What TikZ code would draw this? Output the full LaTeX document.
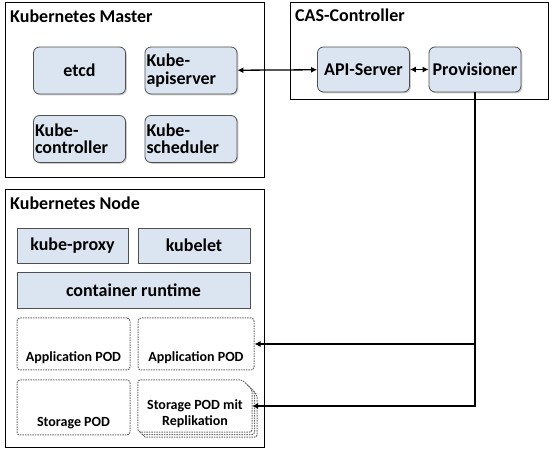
\documentclass[tikz,border=0pt]{standalone}
\usepackage{fontspec}
\setmainfont{Carlito}
\usetikzlibrary{arrows.meta,positioning,shadows}
\definecolor{boxfill}{RGB}{219,229,241}
\definecolor{boxline}{RGB}{80,80,80}

\begin{document}
\begin{tikzpicture}[x=1pt, y=-1pt, >={Latex[length=6pt,width=6pt]},
	every node/.style={font=\bfseries\fontsize{18}{17.5}\selectfont},
	frame/.style={draw=black, line width=1pt},
	title/.style={anchor=base west, inner sep=0pt},
	comp/.style={draw=boxline, fill=boxfill, rounded corners=6pt, line width=0.8pt, drop shadow={shadow xshift=1.3pt, shadow yshift=-1.3pt, opacity=0.4}, minimum height=47pt, text width=89pt, inner xsep=1.5pt, align=left},
	layer/.style={draw=boxline, fill=boxfill, line width=0.8pt, drop shadow={shadow xshift=1.3pt, shadow yshift=-1.3pt, opacity=0.4}, minimum height=35pt, align=center},
	pod/.style={draw=gray!85!black, dash pattern=on 1.5pt off 1pt, rounded corners=3pt, line width=1pt},
	podtext/.style={font=\bfseries\fontsize{14}{16}\selectfont, align=center},
	link/.style={line width=1.3pt}]
	\useasboundingbox (0,0) rectangle (550,449);

	% Kubernetes Master
	\draw[frame] (5,3) rectangle (264,178);
	\node[title] (mastertitle) at (10,22.5) {Kubernetes Master};
	\node[comp, align=center] (etcd) at (79.5,70.5) {etcd};
	\node[comp] (apiserver) at (191,70.5) {Kube-\\apiserver};
	\node[comp] (controller) at (79.5,139) {Kube-\\controller};
	\node[comp] (scheduler) at (191,139) {Kube-\\scheduler};

	% CAS-Controller
	\draw[frame] (290,3) rectangle (548,100);
	\node[title] (castitle) at (295,22) {CAS-Controller};
	\node[comp, align=center, minimum height=45pt] (casapi) at (363.5,69.5) {API-Server};
	\node[comp, align=center, minimum height=45pt] (prov) at (475,69.5) {Provisioner};

	% Kubernetes Node
	\draw[frame] (5,190) rectangle (264,448);
	\node[title] (nodetitle) at (10,210) {Kubernetes Node};
	\node[layer, minimum width=111pt] (proxy) at (72.5,245.5) {kube-proxy};
	\node[layer, minimum width=112pt] (kubelet) at (194,245.5) {kubelet};
	\node[layer, minimum width=233pt, minimum height=36pt] (runtime) at (133.5,290) {container runtime};

	\node[pod, minimum width=113pt, minimum height=52pt] (app1) at (73.5,344) {};
	\node[pod, minimum width=116pt, minimum height=52pt] (app2) at (196,344) {};
	\node[pod, minimum width=113pt, minimum height=55pt] (storage) at (73.5,407.5) {};
	\node[minimum width=114pt, minimum height=52pt, inner sep=0pt] (repl) at (195,406) {};
	\foreach \o in {5,2.5,0}
		\draw[pod, fill=white] ([shift={(\o,\o)}]repl.north west) -- ([shift={(\o-10,\o)}]repl.north east)
			-- ([shift={(\o,\o+10)}]repl.north east) -- ([shift={(\o,\o)}]repl.south east)
			-- ([shift={(\o,\o)}]repl.south west) -- cycle;
	\node[podtext, anchor=base] (app1txt) at ([yshift=9pt]app1.south) {Application POD};
	\node[podtext, anchor=base] (app2txt) at ([yshift=9pt]app2.south) {Application POD};
	\node[podtext, anchor=base] (storagetxt) at ([yshift=9pt]storage.south) {Storage POD};
	\node[podtext] (repltxt) at ([yshift=-8pt]repl.center) {Storage POD mit\\Replikation};

	% connectors
	\draw[link, <->] (apiserver) -- (casapi);
	\draw[link, <->] (casapi) -- (prov);
	\coordinate (bend) at (prov.south |- repl.east);
	\draw[link, ->] (prov.south) -- (bend) -- (repl.east);
	\draw[link, ->] (prov.south |- app2.east) -- (app2.east);
\end{tikzpicture}
\end{document}
